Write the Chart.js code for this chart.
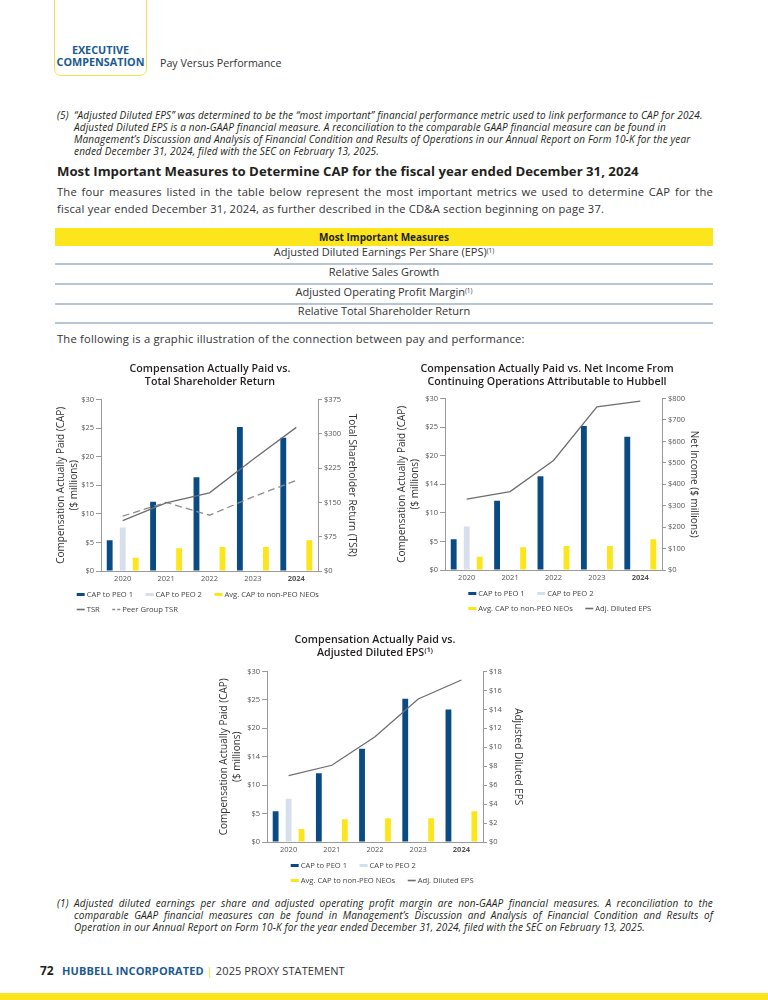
<!DOCTYPE html>
<html><head><meta charset="utf-8">
<script src="https://cdn.jsdelivr.net/npm/chart.js@4.4.0/dist/chart.umd.min.js"></script>
<style>
body{margin:0;width:768px;height:1000px;position:relative;font-family:'Open Sans',sans-serif;color:#231f20;background:#fff;overflow:hidden}
.a{position:absolute;white-space:nowrap}
.hbox{position:absolute;left:54px;top:-10px;width:91px;height:84px;border:1.5px solid #f3e24a;border-radius:7px}
.hbox div{position:absolute;left:0;width:100%;text-align:center;font-weight:700;font-size:10.8px;color:#1b5a91;line-height:12px}
.fn{font-style:italic;font-size:10px;letter-spacing:0.15px;line-height:12px;color:#231f20}
.jl{display:block;width:639px;text-align:justify;text-align-last:justify}
.row{position:absolute;left:55px;width:658px;text-align:center;font-size:11px;border-bottom:2px solid #b6c6d6;box-sizing:border-box;color:#333}
sup{font-size:6.5px;vertical-align:top;position:relative;top:-1px}
canvas{position:absolute}
</style></head><body>

<div class="hbox"><div style="top:53px">EXECUTIVE</div><div style="top:65px">COMPENSATION</div></div>
<div class="a" style="left:160px;top:56px;font-size:10.7px;line-height:14px;color:#333">Pay Versus Performance</div>

<div class="a fn" style="left:57px;top:109px">(5)</div>
<div class="a fn" style="left:74px;top:109px">“Adjusted Diluted EPS” was determined to be the “most important” financial performance metric used to link performance to CAP for 2024.<br>Adjusted Diluted EPS is a non-GAAP financial measure. A reconciliation to the comparable GAAP financial measure can be found in<br>Management’s Discussion and Analysis of Financial Condition and Results of Operations in our Annual Report on Form 10-K for the year<br>ended December 31, 2024, filed with the SEC on February 13, 2025.</div>

<div class="a" style="left:57px;top:162px;font-size:13.2px;line-height:18px;font-weight:700">Most Important Measures to Determine CAP for the fiscal year ended December 31, 2024</div>
<div class="a" style="left:57px;top:182.5px;width:656px;font-size:11.2px;letter-spacing:0.2px;line-height:17px;color:#333">
<span style="display:block;text-align:justify;text-align-last:justify">The four measures listed in the table below represent the most important metrics we used to determine CAP for the</span>
<span style="display:block">fiscal year ended December 31, 2024, as further described in the CD&amp;A section beginning on page 37.</span></div>

<div class="a" style="left:55px;top:228px;width:658px;height:18px;background:#fde51b;text-align:center;font-weight:700;font-size:10px;line-height:18px">Most Important Measures</div>
<div class="row" style="top:246px;height:19px;line-height:12px">Adjusted Diluted Earnings Per Share (EPS)<sup>(1)</sup></div>
<div class="row" style="top:265px;height:20px;line-height:14px">Relative Sales Growth</div>
<div class="row" style="top:285px;height:20px;line-height:14px">Adjusted Operating Profit Margin<sup>(1)</sup></div>
<div class="row" style="top:305px;height:19px;line-height:12px">Relative Total Shareholder Return</div>

<div class="a" style="left:57px;top:330px;font-size:11.2px;letter-spacing:0.2px;line-height:17px;color:#333">The following is a graphic illustration of the connection between pay and performance:</div>

<canvas id="c1" width="340" height="270" style="left:40px;top:355px"></canvas>
<canvas id="c2" width="324" height="270" style="left:385px;top:355px"></canvas>
<canvas id="c3" width="340" height="265" style="left:205px;top:630px"></canvas>

<div class="a fn" style="left:57px;top:897px">(1)</div>
<div class="a fn" style="left:74px;top:897px">
<span class="jl">Adjusted diluted earnings per share and adjusted operating profit margin are non-GAAP financial measures. A reconciliation to the</span>
<span class="jl">comparable GAAP financial measures can be found in Management’s Discussion and Analysis of Financial Condition and Results of</span>
<span style="display:block">Operation in our Annual Report on Form 10-K for the year ended December 31, 2024, filed with the SEC on February 13, 2025.</span></div>

<div class="a" style="left:40px;top:963px;font-size:12px;line-height:16px;font-weight:700">72</div>
<div class="a" style="left:62px;top:964px;font-size:11px;letter-spacing:0.1px;line-height:14px;color:#333"><span style="color:#1b5a91;font-weight:700">HUBBELL INCORPORATED</span> <span style="color:#f3de1a">|</span> 2025 PROXY STATEMENT</div>
<div class="a" style="left:0;top:993px;width:768px;height:7px;background:#fde51b"></div>

<script>
const years = ['2020', '2021', '2022', '2023', '2024'];
const capPeo1 = [5.4, 12.1, 16.4, 25.2, 23.3];
const capPeo2 = [7.6, null, null, null, null];
const capNeo = [2.3, 4.0, 4.2, 4.2, 5.4];
const tsr = [110, 149, 171, 244, 314];
const peerTsr = [120, 150, 122, 162, 198];
const netIncome = [331, 366, 511, 761, 788];
const adjEps = [7.0, 8.1, 11.1, 15.1, 17.1];

const capTicksA = ['$0', '$5', '$10', '$15', '$20', '$25', '$30'];
const capTicksB = ['$0', '$5', '$10', '$14', '$20', '$25', '$30'];
const tsrTicks = ['$0', '$75', '$150', '$225', '$300', '$375'];
const niTicks = ['$0', '$100', '$200', '$300', '$400', '$500', '$600', '$700', '$800'];
const epsTicks = ['$0', '$2', '$4', '$6', '$8', '$10', '$12', '$14', '$16', '$18'];

const F = "'Open Sans', sans-serif";
const C_PEO1 = '#0b4b84', C_PEO2 = '#d6dfeb', C_NEO = '#fde51b', C_LINE = '#6d6e71', C_PEER = '#8c8c8c';
const AX = '#9a9a9a', TK = '#555';

const rowLegend = {
  id: 'rowLegend',
  afterDraw(chart, args, o) {
    const ctx = chart.ctx;
    ctx.save();
    ctx.font = '7.6px ' + F;
    ctx.textBaseline = 'middle';
    o.rows.forEach((row, r) => {
      let x = o.x;
      const y = chart.chartArea.bottom + o.y[r];
      row.forEach(i => {
        const ds = chart.data.datasets[i];
        const isLine = ds.type === 'line';
        ctx.strokeStyle = isLine ? ds.borderColor : ds.backgroundColor;
        ctx.lineWidth = isLine ? 1.6 : 3;
        ctx.setLineDash(ds.borderDash ? [3, 2] : []);
        ctx.beginPath(); ctx.moveTo(x, y); ctx.lineTo(x + 8, y); ctx.stroke();
        ctx.setLineDash([]);
        x += 10;
        ctx.fillStyle = '#444';
        ctx.fillText(ds.label, x, y);
        x += ctx.measureText(ds.label).width + 12.5;
      });
    });
    ctx.restore();
  }
};

function barSets() {
  return [
    {type: 'bar', label: 'CAP to PEO 1', data: capPeo1, backgroundColor: C_PEO1, yAxisID: 'y', order: 1, categoryPercentage: 0.9, barPercentage: 0.45},
    {type: 'bar', label: 'CAP to PEO 2', data: capPeo2, backgroundColor: C_PEO2, yAxisID: 'y', order: 1, categoryPercentage: 0.9, barPercentage: 0.45},
    {type: 'bar', label: 'Avg. CAP to non-PEO NEOs', data: capNeo, backgroundColor: C_NEO, yAxisID: 'y', order: 1, categoryPercentage: 0.9, barPercentage: 0.45}
  ];
}
function lineSet(label, data, color, dash) {
  return {type: 'line', label, data, borderColor: color, backgroundColor: color, borderWidth: 1.3, borderDash: dash, pointRadius: 0, yAxisID: 'y2', order: 0, tension: 0};
}

function build(id, p) {
  return new Chart(document.getElementById(id), {
    data: {labels: years, datasets: barSets().concat(p.lines)},
    options: {
      responsive: false, animation: false, devicePixelRatio: 1,
      layout: {padding: {bottom: p.padB}},
      plugins: {
        legend: {display: false}, tooltip: {enabled: false},
        title: {display: true, text: p.title, color: '#231f20', font: {size: 10.7, weight: '600', family: F, lineHeight: 1.2}, padding: {top: p.tT, bottom: p.tB}},
        rowLegend: {x: p.lx, rows: p.rows, y: [23.5, 38.5]}
      },
      scales: {
        x: {
          grid: {display: false, drawTicks: false}, border: {display: true, color: AX},
          ticks: {color: TK, padding: 3, font: c => ({size: 7.5, family: F, weight: c.index === 4 ? 'bold' : 'normal'})},
          afterFit(s) { s.height = 18; }
        },
        y: {
          position: 'left', min: 0, max: 30,
          ticks: {stepSize: 5, color: TK, padding: 2, font: {size: 7.5, family: F}, callback: (v, i) => p.leftTicks[i]},
          grid: {drawOnChartArea: false, drawTicks: true, tickLength: 5, color: AX},
          border: {display: true, color: AX},
          title: {display: true, text: ['Compensation Actually Paid (CAP)', '($ millions)'], color: '#333', font: {size: 10, family: F, lineHeight: 1.3}, padding: {top: p.lPad, bottom: 0}},
          afterFit(s) { s.width = p.lW; }
        },
        y2: {
          position: 'right', min: 0, max: p.rMax,
          ticks: {stepSize: p.rStep, color: TK, padding: 2, font: {size: 7.5, family: F}, callback: (v, i) => p.rightTicks[i]},
          grid: {drawOnChartArea: false, drawTicks: true, tickLength: 4, color: AX},
          border: {display: true, color: AX},
          title: {display: true, text: p.rTitle, color: '#333', font: {size: 10, family: F, lineHeight: 1.3}, padding: {top: p.rPad, bottom: 0}},
          afterFit(s) { s.width = p.rW; }
        }
      }
    },
    plugins: [rowLegend]
  });
}

build('c1', {
  title: ['Compensation Actually Paid vs.', 'Total Shareholder Return'],
  lines: [lineSet('TSR', tsr, C_LINE), lineSet('Peer Group TSR', peerTsr, C_PEER, [7, 4])],
  leftTicks: capTicksA, rightTicks: tsrTicks, rMax: 375, rStep: 75, rTitle: 'Total Shareholder Return (TSR)',
  tT: 7.7, tB: 11.1, padB: 36, lW: 61, rW: 62, lPad: 14.5, rPad: 21.5, lx: 36.7, rows: [[0, 1, 2], [3, 4]]
});
build('c2', {
  title: ['Compensation Actually Paid vs. Net Income From', 'Continuing Operations Attributable to Hubbell'],
  lines: [lineSet('Adj. Diluted EPS', netIncome, C_LINE)],
  leftTicks: capTicksB, rightTicks: niTicks, rMax: 800, rStep: 100, rTitle: 'Net Income ($ millions)',
  tT: 7.7, tB: 10.1, padB: 37, lW: 60, rW: 47, lPad: 10.5, rPad: 8.5, lx: 83.3, rows: [[0, 1], [2, 3]]
});
build('c3', {
  title: ['Compensation Actually Paid vs.', 'Adjusted Diluted EPS⁽¹⁾'],
  lines: [lineSet('Adj. Diluted EPS', adjEps, C_LINE)],
  leftTicks: capTicksB, rightTicks: epsTicks, rMax: 18, rStep: 2, rTitle: 'Adjusted Diluted EPS',
  tT: 3.7, tB: 12.1, padB: 35, lW: 62, rW: 62, lPad: 12.5, rPad: 21, lx: 85.7, rows: [[0, 1], [2, 3]]
});
</script>
</body></html>
